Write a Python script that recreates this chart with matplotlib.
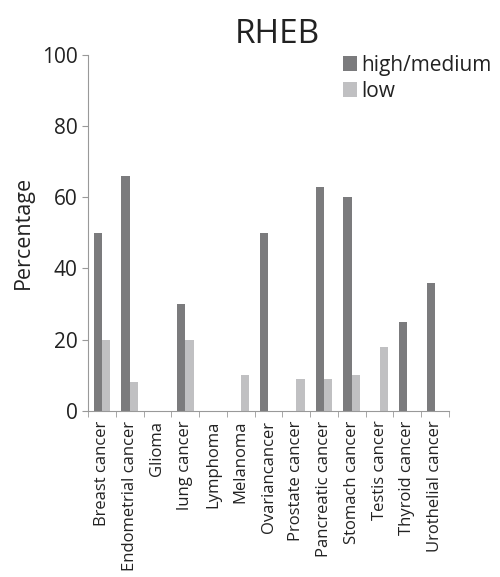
import numpy as np
import matplotlib.pyplot as plt

categories = ['Breast cancer', 'Endometrial cancer', 'Glioma', 'lung cancer', 'Lymphoma',
              'Melanoma', 'Ovariancancer', 'Prostate cancer', 'Pancreatic cancer',
              'Stomach cancer', 'Testis cancer', 'Thyroid cancer', 'Urothelial cancer']
high_medium = [50, 66, 0, 30, 0, 0, 50, 0, 63, 60, 0, 25, 36]
low = [20, 8, 0, 20, 0, 10, 0, 9, 9, 10, 18, 0, 0]

plt.rcParams['font.family'] = ['Open Sans', 'DejaVu Sans']

fig = plt.figure(figsize=(5, 5.77), dpi=100)
ax = fig.add_axes([0.176, 0.288, 0.722, 0.617])

x = np.arange(len(categories))
w = 0.3
ax.bar(x - w / 2, high_medium, w, color='#7b7b7d', label='high/medium')
ax.bar(x + w / 2, low, w, color='#c0c0c2', label='low')

ax.set_xlim(-0.5, len(categories) - 0.5)
ax.set_ylim(0, 100)
ax.set_yticks(range(0, 101, 20))
ax.tick_params(axis='y', labelsize=15, length=4, color='#999999', labelcolor='#222222')
ax.set_xticks(x)
ax.set_xticklabels(categories, rotation=90, fontsize=12, color='#222222')
ax.tick_params(axis='x', length=0, pad=7)
ax.set_xticks(np.arange(-0.5, len(categories), 1), minor=True)
ax.tick_params(axis='x', which='minor', length=4, color='#999999')

for s in ['top', 'right']:
    ax.spines[s].set_visible(False)
for s in ['left', 'bottom']:
    ax.spines[s].set_color('#999999')

ax.set_ylabel('Percentage', fontsize=15.5, labelpad=6, color='#222222')
fig.text(0.554, 1 - 43 / 577, 'RHEB', fontsize=24, ha='center', va='baseline', color='#222222')
ax.legend(loc='upper left', bbox_to_anchor=(0.706, 1.0), frameon=False, fontsize=15,
          borderpad=0, borderaxespad=0, labelcolor='#222222',
          handlelength=0.7, handleheight=0.7, handletextpad=0.2, labelspacing=0.25)

fig.savefig('out.png', dpi=100)
